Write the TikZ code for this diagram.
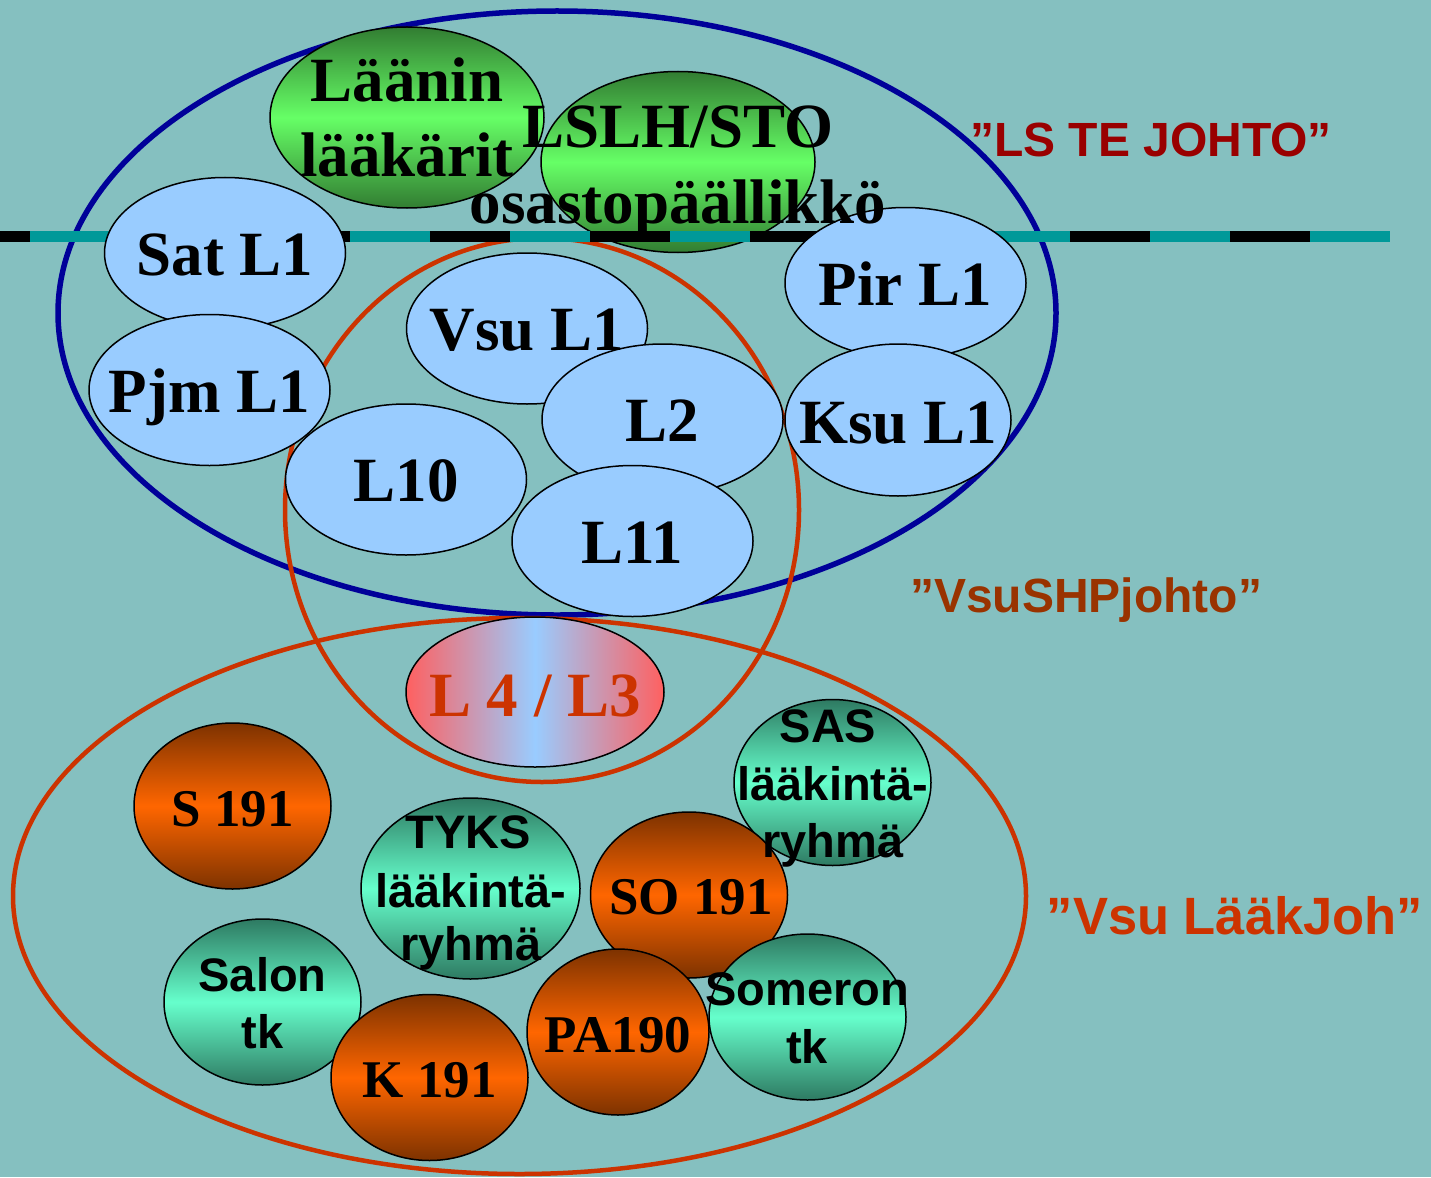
\documentclass[tikz,border=0pt]{standalone}
\usepackage{fontspec}
\setmainfont{Liberation Serif}
\newfontfamily\arialf{Liberation Sans}
\usetikzlibrary{shapes.geometric}
\definecolor{bg}{RGB}{133,192,192}
\definecolor{dblue}{RGB}{0,0,153}
\definecolor{redline}{RGB}{204,51,0}
\definecolor{lblue}{RGB}{153,204,255}
\definecolor{gdark}{RGB}{50,125,50}
\definecolor{glight}{RGB}{102,255,102}
\definecolor{odark}{RGB}{125,50,0}
\definecolor{olight}{RGB}{255,102,0}
\definecolor{tdark}{RGB}{46,122,98}
\definecolor{tlight}{RGB}{102,255,204}
\definecolor{lred}{RGB}{255,96,96}
\definecolor{dashteal}{RGB}{0,153,153}
\definecolor{lsred}{RGB}{153,0,0}
\definecolor{shpred}{RGB}{153,51,0}
\definecolor{lkred}{RGB}{204,51,0}
\begin{document}
\begin{tikzpicture}[x=1pt,y=-1pt,
  ebase/.style={ellipse, draw=black, line width=1.5pt, inner sep=0pt, outer sep=0pt},
  lbE/.style={ebase, fill=lblue, minimum width=241pt, minimum height=151pt},
  grnE/.style={ebase, top color=gdark, bottom color=gdark, middle color=glight, minimum width=274pt, minimum height=181pt},
  orgE/.style={ebase, top color=odark, bottom color=odark, middle color=olight, minimum width=197pt, minimum height=166pt},
  teaE/.style={ebase, top color=tdark, bottom color=tdark, middle color=tlight, minimum width=197pt, minimum height=166pt},
  bigE/.style={ellipse, inner sep=0pt, outer sep=0pt},
  serA/.style={font=\fontsize{63}{72}\selectfont\bfseries, anchor=base, inner sep=0pt},
  serB/.style={font=\fontsize{53}{60}\selectfont\bfseries, anchor=base, inner sep=0pt},
  sanA/.style={font=\arialf\fontsize{47}{56}\selectfont\bfseries, anchor=base, inner sep=0pt},
  lab/.style={font=\arialf\fontsize{48}{56}\selectfont\bfseries, anchor=base, inner sep=0pt}
]
\useasboundingbox (0,0) rectangle (1431,1177);
\fill[bg] (0,0) rectangle (1431,1177);

% big group ellipses
\node[bigE, draw=dblue, line width=5.5pt, minimum width=998pt, minimum height=604pt] (lsE) at (557,313) {};
\node[bigE, draw=redline, line width=4.5pt, minimum width=514pt, minimum height=544pt] (shpE) at (542,510) {};
\node[bigE, draw=redline, line width=4.5pt, minimum width=1013pt, minimum height=556pt] (lkE) at (519.5,896) {};

% green
\node[grnE] (laan) at (407,117.5) {};
\node[grnE] (lslh) at (678,162) {};

% dashed line
\coordinate (dashL) at (0,236);
\coordinate (dashR) at (1390,236);
\draw[dashteal, line width=11pt] (dashL) -- (dashR);
\draw[black, line width=11pt, dash pattern=on 80pt off 80pt, dash phase=50pt] (dashL) -- (dashR);

% light blue
\node[lbE] (sat) at (225,253) {};
\node[lbE] (pjm) at (209.5,390) {};
\node[lbE] (pir) at (905.5,283) {};
\node[lbE, minimum width=226pt, minimum height=152pt] (ksu) at (898,420) {};
\node[lbE] (vsu) at (527,328.5) {};
\node[lbE] (l10) at (406,479.5) {};
\node[lbE] (l2) at (662.5,419.5) {};
\node[lbE] (l11) at (632.5,541) {};

% L4/L3
\node[ebase, left color=lred, right color=lred, middle color=lblue, minimum width=258pt, minimum height=150pt] (l4) at (535,692) {};

% bottom group
\node[orgE] (s191) at (232.5,806) {};
\node[teaE, minimum width=219pt, minimum height=181pt] (tyks) at (470.5,888.5) {};
\node[teaE] (sas) at (832.5,782.5) {};
\node[orgE] (so191) at (689,895) {};
\node[teaE] (som) at (807.5,1017) {};
\node[orgE, minimum width=182pt] (pa190) at (618,1032) {};
\node[teaE] (salon) at (262.5,1002) {};
\node[orgE] (k191) at (429.5,1077.5) {};

% texts
\node[serA] (laanT1) at (407,102) {Läänin};
\node[serA] (laanT2) at (407,177) {lääkärit};
\node[serA] (lslhT1) at (678,148) {LSLH/STO};
\node[serA] (lslhT2) at (678,223) {osastopäällikkö};
\node[serA] (satT) at (225,275) {Sat L1};
\node[serA] (pjmT) at (209.5,412) {Pjm L1};
\node[serA] (pirT) at (905.5,305) {Pir L1};
\node[serA] (ksuT) at (898,443) {Ksu L1};
\node[serA] (vsuT) at (527,350) {Vsu L1};
\node[serA] (l10T) at (406,501.5) {L10};
\node[serA] (l2T) at (662.5,441.5) {L2};
\node[serA] (l11T) at (632.5,563) {L11};
\node[serA, text=lkred] (l4T) at (535,716) {L 4 / L3};

\node[serB] (s191T) at (232.5,826) {S 191};
\node[serB] (so191T) at (691,914) {SO 191};
\node[serB] (pa190T) at (618,1052) {PA190};
\node[serB] (k191T) at (429.5,1097) {K 191};

\node[sanA] (tyksT1) at (468,848) {TYKS};
\node[sanA] (tyksT2) at (471,907) {lääkintä-};
\node[sanA] (tyksT3) at (471,960) {ryhmä};
\node[sanA] (sasT1) at (828,742) {SAS};
\node[sanA] (sasT2) at (833,800) {lääkintä-};
\node[sanA] (sasT3) at (833,857) {ryhmä};
\node[sanA] (salonT1) at (262.5,991) {Salon};
\node[sanA] (salonT2) at (262.5,1048) {tk};
\node[sanA] (somT1) at (807,1005) {Someron};
\node[sanA] (somT2) at (807,1063) {tk};

% group labels
\node[lab, text=lsred] (lsLab) at (1151,157) {”LS TE JOHTO”};
\node[lab, text=shpred] (shpLab) at (1086,612) {”VsuSHPjohto”};
\node[lab, text=lkred, font=\arialf\fontsize{52.5}{60}\selectfont\bfseries] (lkLab) at (1235,934) {”Vsu LääkJoh”};
\end{tikzpicture}
\end{document}
